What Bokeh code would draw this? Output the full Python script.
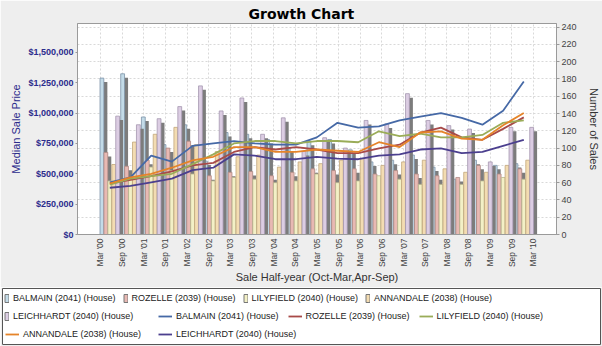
import math
from bokeh.plotting import figure
from bokeh.layouts import column
from bokeh.models import (Range1d, LinearAxis, FixedTicker, CustomJSTickFormatter,
                          NumeralTickFormatter, Legend, LegendItem, Grid,
                          SingleIntervalTicker, ColumnDataSource)
from bokeh.transform import dodge
from bokeh.embed import file_html
from bokeh.resources import INLINE

# ---------------- data ----------------
periods = ["Mar '00", "Sep '00", "Mar '01", "Sep '01", "Mar '02", "Sep '02", "Mar '03",
           "Sep '03", "Mar '04", "Sep '04", "Mar '05", "Sep '05", "Mar '06", "Sep '06",
           "Mar '07", "Sep '07", "Mar '08", "Sep '08", "Mar '09", "Sep '09", "Mar '10"]

suburbs = ["BALMAIN (2041) (House)", "ROZELLE (2039) (House)", "LILYFIELD (2040) (House)",
           "ANNANDALE (2038) (House)", "LEICHHARDT (2040) (House)"]

# number of sales (bars, right axis)
sales_balmain    = [181, 186, 136, 104, 127, 85, 118, 116, 110, 100, 108, 110, 98, 84, 86, 92, 78, 64, 86, 80, 82]
sales_rozelle    = [95, 79, 86, 100, 108, 68, 72, 73, 68, 72, 76, 74, 76, 70, 74, 70, 68, 66, 80, 70, 76]
sales_lilyfield  = [62, 66, 78, 74, 70, 62, 66, 64, 60, 62, 70, 60, 62, 68, 64, 58, 58, 58, 62, 66, 64]
sales_annandale  = [81, 107, 116, 124, 104, 96, 90, 92, 78, 84, 82, 86, 88, 80, 84, 86, 76, 72, 72, 80, 86]
sales_leichhardt = [137, 127, 134, 148, 172, 143, 158, 116, 135, 96, 112, 100, 132, 128, 163, 132, 126, 122, 84, 124, 124]

# median sale price (lines, left axis)
price_balmain    = [430000, 470000, 650000, 600000, 730000, 750000, 770000, 750000, 740000, 740000, 800000,
                    920000, 880000, 890000, 940000, 970000, 1000000, 960000, 905000, 1020000, 1260000]
price_rozelle    = [420000, 450000, 480000, 520000, 570000, 590000, 680000, 720000, 700000, 720000, 700000,
                    670000, 670000, 710000, 740000, 840000, 880000, 800000, 780000, 870000, 965000]
price_lilyfield  = [410000, 460000, 480000, 500000, 580000, 660000, 750000, 770000, 770000, 750000, 770000,
                    770000, 760000, 850000, 810000, 830000, 800000, 800000, 820000, 920000, 940000]
price_annandale  = [420000, 470000, 500000, 550000, 610000, 640000, 720000, 720000, 680000, 680000, 700000,
                    690000, 680000, 760000, 720000, 840000, 850000, 790000, 780000, 900000, 1000000]
price_leichhardt = [385000, 400000, 430000, 460000, 530000, 550000, 660000, 650000, 620000, 620000, 640000,
                    625000, 620000, 650000, 660000, 700000, 710000, 670000, 680000, 730000, 780000]

sales_series = [sales_balmain, sales_rozelle, sales_lilyfield, sales_annandale, sales_leichhardt]
price_series = [price_balmain, price_rozelle, price_lilyfield, price_annandale, price_leichhardt]

bar_fill = ["#c3dbe8", "#e8b9b3", "#f3f0c6", "#f3dcb2", "#dccde3"]
bar_line = ["#7d93a8", "#b08a84", "#b9b58e", "#c2a77b", "#a597b0"]
line_col = ["#4669a6", "#a84a48", "#9aac58", "#e5842a", "#4b3f8e"]

FONT = "Liberation Sans"
BG = "#eeeeee"

# ---------------- main figure ----------------
p = figure(width=602, height=287, output_backend="svg", toolbar_location=None,
           x_range=Range1d(-1.56, 21.58), y_range=Range1d(0, 1738000),
           x_axis_location=None, y_axis_location=None,
           min_border_left=77, min_border_right=46, min_border_top=23, min_border_bottom=53)
p.background_fill_color = "white"
p.border_fill_color = BG
p.outline_line_color = "#9a9a9a"
p.xgrid.visible = False
p.ygrid.visible = False

p.title.text = "Growth Chart"
p.title.text_font = "DejaVu Sans"
p.title.text_font_size = "14px"
p.title.text_font_style = "bold"
p.title.text_color = "#000000"
p.title.align = "left"
p.title.offset = 171
p.title.standoff = 3

p.extra_y_ranges = {"sales": Range1d(0, 244.2)}

# category ticks / labels
tick_x0 = -0.454
tick_step = 1.046
ticks = [tick_x0 + k * tick_step for k in range(len(periods))]
xticker = FixedTicker(ticks=ticks)
xaxis = LinearAxis(ticker=xticker,
                   formatter=CustomJSTickFormatter(args=dict(labels=periods, x0=tick_x0, step=tick_step),
                                                   code="const i = Math.round((tick - x0)/step); return (i >= 0 && i < labels.length) ? labels[i] : '';"))
xaxis.axis_label = "Sale Half-year (Oct-Mar,Apr-Sep)"
xaxis.axis_label_text_font = FONT
xaxis.axis_label_text_font_size = "11px"
xaxis.axis_label_text_font_style = "normal"
xaxis.axis_label_text_color = "#333333"
xaxis.axis_label_standoff = 1
xaxis.major_label_orientation = math.pi / 2
xaxis.major_label_text_font = FONT
xaxis.major_label_text_font_size = "8.5px"
xaxis.major_label_text_color = "#444444"
xaxis.major_label_standoff = 4
xaxis.major_tick_in = 0
xaxis.major_tick_out = 0
xaxis.minor_tick_out = 0
xaxis.axis_line_color = "#9a9a9a"
p.add_layout(xaxis, "below")

yaxis = LinearAxis(ticker=SingleIntervalTicker(interval=250000),
                   formatter=NumeralTickFormatter(format="$0,0"))
yaxis.axis_label = "Median Sale Price"
yaxis.axis_label_text_font = FONT
yaxis.axis_label_text_font_size = "11px"
yaxis.axis_label_text_font_style = "normal"
yaxis.axis_label_text_color = "#2b2b8c"
yaxis.axis_label_standoff = 3
yaxis.major_label_text_font = FONT
yaxis.major_label_text_font_size = "9px"
yaxis.major_label_text_font_style = "bold"
yaxis.major_label_text_color = "#2b2b8c"
yaxis.major_label_standoff = 2
yaxis.major_tick_in = 0
yaxis.major_tick_out = 2
yaxis.minor_tick_out = 0
yaxis.axis_line_color = "#9a9a9a"
yaxis.major_tick_line_color = "#9a9a9a"
p.add_layout(yaxis, "left")

raxis = LinearAxis(y_range_name="sales", ticker=SingleIntervalTicker(interval=20))
raxis.axis_label = "Number of Sales"
raxis.axis_label_text_font = FONT
raxis.axis_label_text_font_size = "11px"
raxis.axis_label_text_font_style = "normal"
raxis.axis_label_text_color = "#333333"
raxis.axis_label_standoff = 8
raxis.major_label_text_font = FONT
raxis.major_label_text_font_size = "9px"
raxis.major_label_text_color = "#444444"
raxis.major_label_standoff = 2
raxis.major_tick_in = 0
raxis.major_tick_out = 3
raxis.minor_tick_out = 0
raxis.axis_line_color = "#9a9a9a"
raxis.major_tick_line_color = "#9a9a9a"
p.add_layout(raxis, "right")

# grids
vgrid = Grid(dimension=0, ticker=xticker, grid_line_color="#d9d9d9", grid_line_dash="2 2")
hgrid = Grid(dimension=1, ticker=SingleIntervalTicker(interval=20), y_range_name="sales",
             grid_line_color="#d9d9d9", grid_line_dash="2 2")
p.add_layout(vgrid)
p.add_layout(hgrid)

# ---------------- legend strip (separate figure, same sources, out of view) ----------------
lg = figure(width=602, height=59, output_backend="svg", toolbar_location=None,
            x_range=Range1d(1000, 1001), y_range=Range1d(1000, 1001),
            x_axis_location=None, y_axis_location=None,
            min_border_left=2, min_border_right=2, min_border_top=1, min_border_bottom=2)
lg.background_fill_color = "white"
lg.border_fill_color = BG
lg.outline_line_color = "#555555"
lg.xgrid.visible = False
lg.ygrid.visible = False
lg.extra_y_ranges = {"sales": Range1d(1000, 1001)}

for fig in (p, lg):
    try:
        fig.frame_align = False
    except Exception:
        pass

# ---------------- bars ----------------
idx = list(range(len(periods)))
slot = 0.19
bar_w = 0.185
bar_legend_r = []
for k, (vals, fc, lc) in enumerate(zip(sales_series, bar_fill, bar_line)):
    src = ColumnDataSource(dict(x=[i + (k - 2) * slot for i in idx], top=vals))
    p.vbar(x=dodge("x", 0.17), top=dodge("top", -4.6), bottom=0, width=bar_w, source=src,
           y_range_name="sales", fill_color="#7c7c7c", line_color=None)
    p.vbar(x="x", top="top", bottom=0, width=bar_w, source=src, y_range_name="sales",
           fill_color=fc, line_color=lc, line_width=0.8)
    r = lg.vbar(x="x", top="top", bottom=0, width=bar_w, source=src, y_range_name="sales",
                fill_color=fc, line_color="#777777", line_width=1)
    bar_legend_r.append(r)

# ---------------- lines ----------------
line_legend_r = []
for vals, c in zip(price_series, line_col):
    src = ColumnDataSource(dict(x=idx, y=vals))
    p.line("x", "y", source=src, line_color=c, line_width=1.8)
    r = lg.line("x", "y", source=src, line_color=c, line_width=1.8)
    line_legend_r.append(r)

bar_entries = list(zip(suburbs, bar_legend_r))
line_entries = list(zip(suburbs, line_legend_r))

# (entries, x, y, glyph width, spacing) - flow rows like the reference legend
groups = [
    (bar_entries[0:4], 2, 39, 5, 7),
    (bar_entries[4:5], 2, 21, 5, 8),
    (line_entries[0:3], 156, 21, 14, 9),
    (line_entries[3:4], 3, 3, 14, 9),
    (line_entries[4:5], 156, 3, 14, 9),
]
for ents, xx, yy, gw, sp in groups:
    leg = Legend(items=[LegendItem(label=s, renderers=[r]) for s, r in ents],
                 orientation="horizontal", location=(xx, yy),
                 label_text_font=FONT, label_text_font_size="9px", label_text_color="#222222",
                 glyph_width=gw, glyph_height=10, label_height=14, label_standoff=4,
                 spacing=sp, padding=0, margin=0,
                 border_line_alpha=0, background_fill_alpha=0)
    lg.add_layout(leg)

layout = column(p, lg, spacing=0)
open("out.html", "w").write(file_html(layout, INLINE))
